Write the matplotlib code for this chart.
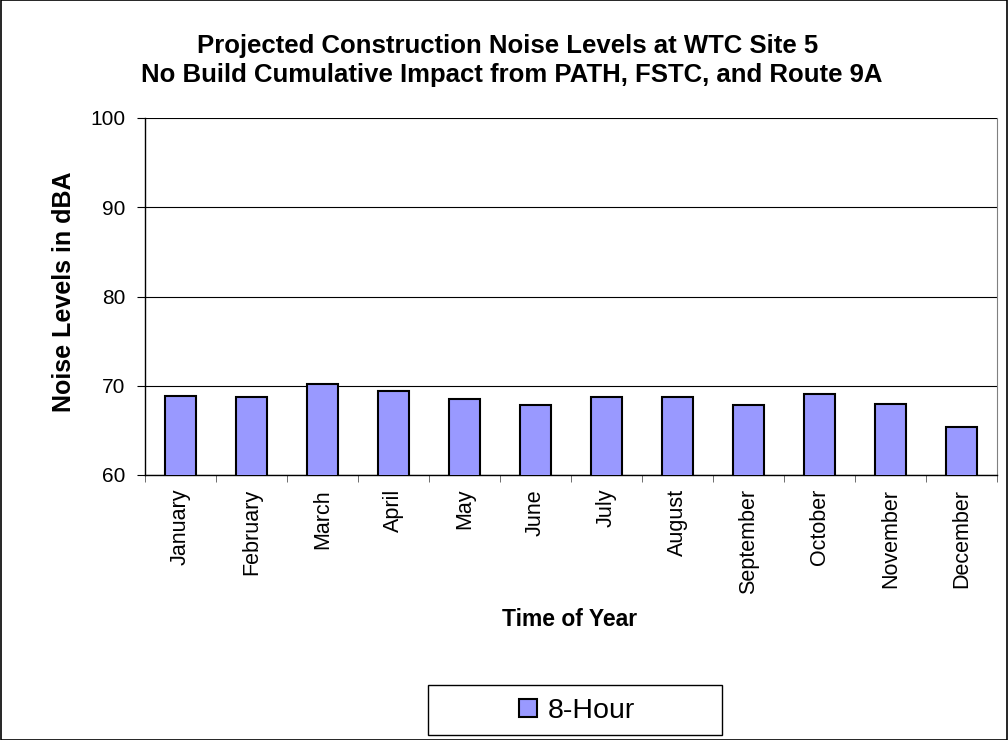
import matplotlib
matplotlib.use("Agg")
import matplotlib.pyplot as plt
from matplotlib.patches import Rectangle
import numpy as np

plt.rcParams['font.family'] = ['Liberation Sans', 'DejaVu Sans']

months = ["January", "February", "March", "April", "May", "June", "July",
          "August", "September", "October", "November", "December"]
values_8hr = [68.9, 68.7, 70.2, 69.4, 68.5, 67.8, 68.7, 68.7, 67.8, 69.1, 68.0, 65.4]
yticks = [60, 70, 80, 90, 100]

W, H = 1008, 740
fig = plt.figure(figsize=(W / 100, H / 100), dpi=100)
ax = fig.add_axes([145 / W, 1 - 475 / H, (997 - 145) / W, (475 - 118) / H])

x = np.arange(len(months))
bars = ax.bar(x, values_8hr, width=0.44, color="#9999FF", edgecolor="black",
              linewidth=1.5, label="8-Hour", zorder=3)

ax.set_ylim(60, 100)
ax.set_xlim(-0.5, len(months) - 0.5)
ax.set_yticks(yticks)
ax.set_yticklabels([str(v) for v in yticks], fontsize=15)
ax.yaxis.grid(True, color="black", linewidth=0.8, zorder=0)
ax.set_axisbelow(True)

ax.set_xticks(x)
ax.set_xticklabels(months, rotation=90, fontsize=15.5, va="top")
ax.tick_params(axis="x", length=0, pad=10)
ax.set_xticks(np.arange(-0.5, len(months) + 0.5, 1), minor=True)
ax.tick_params(axis="x", which="minor", length=5, direction="out", color="#555555")
ax.tick_params(axis="y", length=6, direction="out", color="black", pad=8)

ax.spines["top"].set_visible(False)
for s in ["left", "bottom"]:
    ax.spines[s].set_color("black")
    ax.spines[s].set_linewidth(1.0)
ax.spines["right"].set_color("#808080")

fig.text(64 / W, 1 - 292 / H, "Noise Levels in dBA", rotation=90,
         ha="center", va="center", fontsize=18, fontweight="bold")
fig.text(570 / W, 1 - 620 / H, "Time of Year",
         ha="center", va="center", fontsize=16.5, fontweight="bold")

fig.text(508 / W, 1 - 53 / H, "Projected Construction Noise Levels at WTC Site 5",
         ha="center", va="baseline", fontsize=18.5, fontweight="bold")
fig.text(512 / W, 1 - 82 / H, "No Build Cumulative Impact from PATH, FSTC, and Route 9A",
         ha="center", va="baseline", fontsize=18.5, fontweight="bold")

leg = fig.legend(handles=[bars], labels=["8-Hour"], loc="center",
                 bbox_to_anchor=(577 / W, 1 - 711 / H), fontsize=20.5,
                 frameon=False, handlelength=0.63, handleheight=0.63,
                 handletextpad=0.35, borderaxespad=0)

fig.patches.append(Rectangle((428 / W, 1 - 735 / H), (722 - 428) / W, 50 / H,
                             transform=fig.transFigure, fill=False,
                             edgecolor="black", linewidth=1.0))

fig.patches.append(Rectangle((0.0005, 0.0005), 0.999, 0.999, transform=fig.transFigure,
                             fill=False, edgecolor="black", linewidth=1.2))

fig.savefig("out.png", dpi=100)
